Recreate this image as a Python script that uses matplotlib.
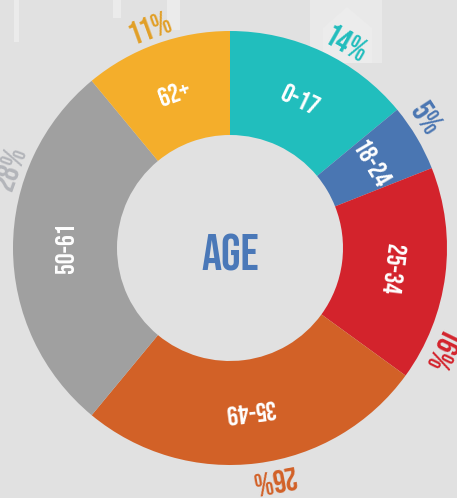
import numpy as np
import matplotlib
matplotlib.use("Agg")
from matplotlib import pyplot as plt
from matplotlib.patches import Rectangle, Polygon

# age groups, clockwise from the top
groups = ["0-17", "18-24", "25-34", "35-49", "50-61", "62+"]
shares = [14, 5, 16, 26, 28, 11]
colors = ["#21bebd", "#4a76b2", "#d3232c", "#d26127", "#a0a0a0", "#f4ae2b"]
pct_colors = ["#21bdbd", "#4a76b2", "#d3232c", "#d26127", "#b3b5ba", "#e29f26"]
# where the outer percent labels sit (degrees, ccw from 3 o'clock)
pct_angles = [60.5, 33.3, -26, -79.5, 160, 110]

bg = "#e1e1e1"
font = ["Bebas Neue", "DejaVu Sans"]

fig = plt.figure(figsize=(4.57, 4.98), dpi=100)
fig.patch.set_facecolor(bg)
ax = fig.add_axes([0, 0, 1, 1])
ax.set_facecolor(bg)

# faint shapes in the background
for x, w, h in [(14, 5, 42), (113, 8, 18), (167, 13, 30)]:
    ax.add_patch(Rectangle((x - 230, 248 - h), w, h, color="#ebebeb", lw=0, zorder=0))
ax.add_patch(Rectangle((310 - 230, 248 - 63), 72, 63, color="#e9e9e9", lw=0, zorder=0))
ax.add_patch(Polygon([(323 - 230, 248 - 63), (323 - 230, 248 - 28), (347 - 230, 248 - 7),
                      (372 - 230, 248 - 28), (372 - 230, 248 - 63)],
                     closed=True, color="#ececec", lw=0, zorder=0))

R_out, R_in = 217, 113
wedges, _ = ax.pie(shares, colors=colors, startangle=90, counterclock=False,
                   radius=R_out, center=(0, 0),
                   wedgeprops=dict(width=R_out - R_in, linewidth=0))

r_mid = (R_out + R_in) / 2
for w, g in zip(wedges, groups):
    a = (w.theta1 + w.theta2) / 2
    t = np.deg2rad(a)
    ax.text(r_mid * np.cos(t), r_mid * np.sin(t), g, rotation=a - 90,
            ha="center", va="center", color="white", fontsize=19.5,
            family=font, rotation_mode="anchor")

for s, a, c in zip(shares, pct_angles, pct_colors):
    t = np.deg2rad(a)
    ax.text(236 * np.cos(t), 236 * np.sin(t), f"{s}%", rotation=a - 90,
            ha="center", va="center", color=c, fontsize=23,
            family=font, rotation_mode="anchor")

ax.text(0, -4, "AGE", ha="center", va="center", color="#4a78b8",
        fontsize=36, family=font)

ax.set_xlim(-230, 227)
ax.set_ylim(-250, 248)
ax.set_aspect("equal")
ax.axis("off")

fig.savefig("out.png", dpi=100, facecolor=bg)
